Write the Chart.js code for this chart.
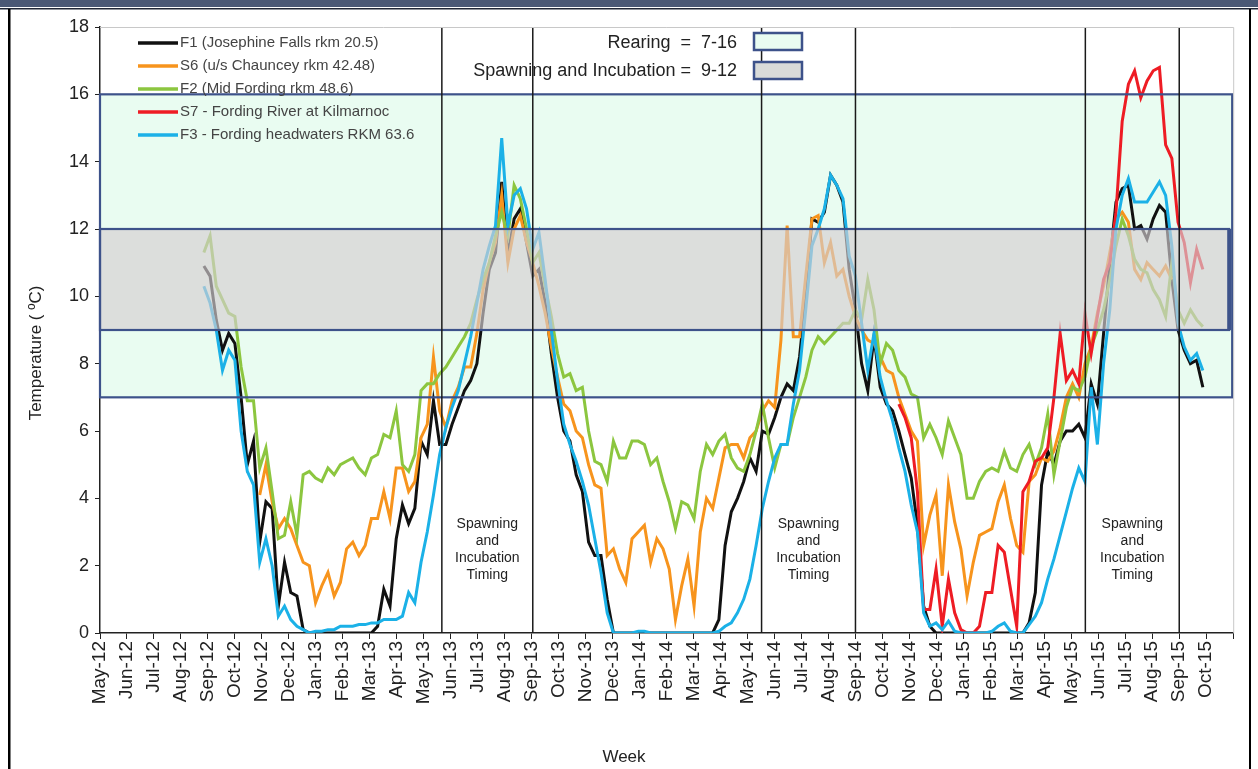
<!DOCTYPE html>
<html>
<head>
<meta charset="utf-8">
<script src="https://cdn.jsdelivr.net/npm/chart.js@4.4.1/dist/chart.umd.min.js"></script>
<style>
	body { margin: 0; background: #fff; }
	canvas { display: block; }
</style>
</head>
<body>
<canvas id="tempChart" width="1258" height="769"></canvas>
<script>
// month tick labels, index 0 = May-12
const monthLabels = [
	"May-12", "Jun-12", "Jul-12", "Aug-12", "Sep-12", "Oct-12", "Nov-12", "Dec-12",
	"Jan-13", "Feb-13", "Mar-13", "Apr-13", "May-13", "Jun-13", "Jul-13", "Aug-13",
	"Sep-13", "Oct-13", "Nov-13", "Dec-13", "Jan-14", "Feb-14", "Mar-14", "Apr-14",
	"May-14", "Jun-14", "Jul-14", "Aug-14", "Sep-14", "Oct-14", "Nov-14", "Dec-14",
	"Jan-15", "Feb-15", "Mar-15", "Apr-15", "May-15", "Jun-15", "Jul-15", "Aug-15",
	"Sep-15", "Oct-15"
];

// weekly series, first week sits at month 3.85 (late Aug-12)
const firstWeek = 3.85;
const weekLen = 12 / 52.18;

const f1Josephine = [
	10.9, 10.6, 9.3, 8.4, 8.9, 8.6, 7.0, 5.0, 5.7, 2.7,
	3.9, 3.7, 0.8, 2.1, 1.2, 1.1, 0.1, 0, 0, 0,
	0, 0, 0, 0, 0, 0, 0, 0, 0.2, 1.3,
	0.8, 2.8, 3.8, 3.25, 3.7, 5.7, 5.3, 6.9, 5.6, 5.6,
	6.2, 6.7, 7.2, 7.5, 8.0, 9.5, 10.8, 11.3, 13.4, 11.2,
	12.3, 12.6, 11.6, 10.6, 10.8, 9.8, 8.3, 7.0, 6.0, 5.7,
	4.7, 4.2, 2.7, 2.3, 2.3, 1.0, 0, 0, 0, 0,
	0, 0, 0, 0, 0, 0, 0, 0, 0, 0,
	0, 0, 0, 0.4, 2.6, 3.6, 4.0, 4.5, 5.2, 4.8,
	6.0, 5.9, 6.4, 7.0, 7.4, 7.2, 8.2, 10.0, 12.3, 12.2,
	12.5, 13.6, 13.3, 12.8, 10.8, 9.6, 8.0, 7.2, 8.8, 7.3,
	6.8, 6.6, 6.0, 5.3, 4.6, 3.2, 0.8, 0.2, 0, 0,
	0, 0, 0, 0, 0, 0, 0, 0, 0, 0,
	0, 0, 0, 0.3, 1.2, 4.4, 5.4, 5.0, 5.7, 6.0,
	6.0, 6.2, 5.8, 7.4, 6.8, 8.9, 11.0, 12.8, 13.2, 13.3,
	12.0, 12.1, 11.7, 12.3, 12.7, 12.5, 10.5, 9.0, 8.4, 8.0,
	8.1, 7.3
];

const s6Chauncey = [
	4.1, 5.0, 3.9, 3.1, 3.4, 3.1, 2.6, 2.1, 2.0, 0.9,
	1.4, 1.8, 1.1, 1.5, 2.5, 2.7, 2.3, 2.6, 3.4, 3.4,
	4.2, 3.4, 4.9, 4.9, 4.2, 4.5, 5.8, 6.2, 8.2, 6.6,
	6.1, 6.9, 7.3, 7.9, 7.9, 8.9, 10.2, 11.0, 11.6, 13.0,
	11.0, 12.0, 12.4, 11.6, 11.0, 10.3, 9.5, 8.5, 7.6, 6.8,
	6.6, 6.0, 5.8, 5.0, 4.4, 4.3, 2.3, 2.5, 1.9, 1.5,
	2.8, 3.0, 3.2, 2.1, 2.8, 2.5, 1.9, 0.4, 1.4, 2.2,
	0.8, 3.0, 4.0, 3.7, 4.6, 5.5, 5.6, 5.6, 5.2, 5.8,
	6.0, 6.6, 6.9, 6.7, 8.7, 12.1, 8.8, 8.8, 10.6, 12.3,
	12.4, 11.0, 11.6, 10.6, 10.8, 10.0, 9.4, 9.0, 8.7, 8.6,
	8.2, 7.8, 7.7, 7.0, 6.5, 6.0, 5.7, 2.6, 3.5, 4.1,
	1.7, 4.4, 3.3, 2.5, 1.1, 2.1, 2.9, 3.0, 3.1, 3.9,
	4.4, 3.4, 2.6, 2.4, 4.5, 4.7, 5.2, 5.1, 5.4, 6.1,
	7.0, 7.4, 7.0, 8.0, 8.5, 9.5, 10.3, 11.3, 12.3, 12.5,
	12.2, 10.8, 10.5, 11.0, 10.8, 10.6, 10.9, 10.5
];
const s6Start = 9;

const f2MidFording = [
	11.3, 11.8, 10.3, 9.9, 9.5, 9.4, 7.9, 6.9, 6.9, 4.9,
	5.5, 4.2, 2.8, 2.9, 3.9, 2.9, 4.7, 4.8, 4.6, 4.5,
	4.9, 4.7, 5.0, 5.1, 5.2, 4.9, 4.7, 5.2, 5.3, 5.9,
	5.8, 6.6, 5.0, 4.8, 5.3, 7.2, 7.4, 7.4, 7.7, 7.9,
	8.2, 8.5, 8.8, 9.2, 9.9, 10.5, 11.0, 11.8, 12.5, 11.8,
	13.3, 12.9, 12.0, 11.0, 11.3, 10.3, 9.4, 8.3, 7.6, 7.7,
	7.2, 7.3, 6.0, 5.1, 5.0, 4.5, 5.7, 5.2, 5.2, 5.7,
	5.7, 5.6, 5.0, 5.2, 4.5, 3.9, 3.1, 3.9, 3.8, 3.4,
	4.8, 5.6, 5.3, 5.7, 5.9, 5.2, 4.9, 4.8, 5.3, 6.0,
	6.8, 5.8, 4.9, 5.6, 5.6, 6.4, 7.0, 7.6, 8.4, 8.8,
	8.6, 8.8, 9.0, 9.2, 9.2, 9.6, 9.3, 10.5, 9.6, 8.0,
	8.6, 8.4, 7.8, 7.6, 7.1, 7.0, 5.8, 6.2, 5.8, 5.3,
	6.3, 5.8, 5.3, 4.0, 4.0, 4.5, 4.8, 4.9, 4.8, 5.4,
	4.9, 4.8, 5.3, 5.6, 5.0, 5.5, 6.5, 4.7, 5.7, 6.7,
	7.3, 7.2, 7.6, 8.5, 9.0, 9.6, 10.5, 11.5, 12.3, 11.8,
	11.1, 10.8, 10.7, 10.2, 9.9, 9.4, 11.0, 9.6, 9.2, 9.6,
	9.3, 9.1
];

const s7Kilmarnoc = [
	6.8, 6.4, 5.8, 4.2, 0.7, 0.7, 1.9, 0.2, 1.6, 0.6,
	0.1, 0, 0, 0.2, 1.2, 1.2, 2.6, 2.4, 1.3, 0.2,
	4.2, 4.5, 5.1, 5.2, 5.5, 7.0, 8.9, 7.5, 7.8, 7.4,
	9.5, 8.3, 9.4, 10.5, 11.0, 12.5, 15.2, 16.3, 16.7, 15.9,
	16.4, 16.7, 16.8, 14.5, 14.1, 12.2, 11.6, 10.4, 11.4, 10.8
];
const s7Start = 112;

const f3Headwaters = [
	10.3, 9.8, 9.0, 7.8, 8.4, 8.1, 6.0, 4.8, 4.4, 2.1,
	2.8, 2.0, 0.5, 0.8, 0.4, 0.2, 0.1, 0, 0.05, 0.05,
	0.1, 0.1, 0.2, 0.2, 0.2, 0.25, 0.25, 0.3, 0.3, 0.4,
	0.4, 0.4, 0.5, 1.2, 0.9, 2.1, 3.0, 4.1, 5.3, 6.1,
	6.7, 7.2, 8.0, 8.8, 9.8, 10.8, 11.5, 12.1, 14.7, 12.1,
	13.0, 13.2, 12.6, 11.4, 11.9, 10.5, 9.0, 7.5, 6.2, 5.6,
	5.1, 4.5, 3.8, 2.8, 1.8, 0.6, 0, 0, 0, 0,
	0.05, 0.05, 0, 0, 0, 0, 0, 0, 0, 0,
	0, 0, 0, 0.05, 0.2, 0.3, 0.6, 1.0, 1.6, 2.6,
	3.7, 4.5, 5.2, 5.6, 5.6, 6.8, 7.8, 9.6, 11.5, 12.0,
	12.6, 13.6, 13.3, 12.9, 11.2, 10.6, 9.2, 7.8, 8.9, 7.6,
	6.9, 6.3, 5.5, 4.8, 3.8, 3.0, 0.6, 0.2, 0.3, 0.1,
	0.35, 0.05, 0, 0, 0, 0, 0, 0.05, 0.2, 0.3,
	0.05, 0, 0, 0.25, 0.5, 0.9, 1.6, 2.2, 2.9, 3.6,
	4.3, 4.9, 4.5, 7.3, 5.6, 8.0, 9.6, 12.0, 13.0, 13.5,
	12.8, 12.8, 12.8, 13.1, 13.4, 13.0, 11.5, 9.2, 8.5, 8.1,
	8.3, 7.8
];

// guideline bands (deg C) and spawning timing windows (month index)
const rearingRange = [7, 16];
const spawningRange = [9, 12];
const spawnWindows = [[12.67, 16.04], [24.52, 28.0], [36.52, 40.0]];

const seriesNames = [
	"F1 (Josephine Falls rkm 20.5)",
	"S6 (u/s Chauncey rkm 42.48)",
	"F2 (Mid Fording rkm 48.6)",
	"S7 - Fording River at Kilmarnoc",
	"F3 - Fording headwaters RKM 63.6"
];
const seriesColors = ["#111111", "#f7941d", "#8cc63f", "#ee1c24", "#1bb1e7"];

function toPoints(values, start) {
	return values.map((v, i) => ({ x: firstWeek + (start + i) * weekLen, y: v }));
}

const FONT = "Arial, 'Liberation Sans', sans-serif";

const bandsPlugin = {
	id: "bands",
	beforeDatasetsDraw(chart) {
		const { ctx, chartArea: a, scales: { y } } = chart;
		ctx.save();
		ctx.fillStyle = "#e9fcf1";
		ctx.fillRect(a.left, y.getPixelForValue(rearingRange[1]), a.right - a.left,
			y.getPixelForValue(rearingRange[0]) - y.getPixelForValue(rearingRange[1]));
		ctx.restore();
	},
	afterDatasetsDraw(chart) {
		const { ctx, chartArea: a, scales: { x, y } } = chart;
		ctx.save();
		const s1 = y.getPixelForValue(spawningRange[1]);
		const s0 = y.getPixelForValue(spawningRange[0]);
		ctx.fillStyle = "rgba(212, 206, 209, 0.66)";
		ctx.fillRect(a.left, s1, a.right - 4 - a.left, s0 - s1);

		// box outlines
		ctx.strokeStyle = "#3d528a";
		ctx.lineWidth = 2.2;
		const r1 = y.getPixelForValue(rearingRange[1]);
		const r0 = y.getPixelForValue(rearingRange[0]);
		ctx.strokeRect(a.left, r1, a.right - a.left - 1, r0 - r1);
		ctx.strokeRect(a.left, s1, a.right - 4 - a.left, s0 - s1);
		ctx.lineWidth = 4;
		ctx.beginPath();
		ctx.moveTo(a.right - 4, s1);
		ctx.lineTo(a.right - 4, s0);
		ctx.stroke();

		// spawning timing windows
		ctx.strokeStyle = "#1a1a1a";
		ctx.lineWidth = 1.5;
		ctx.fillStyle = "#222";
		ctx.font = "14px " + FONT;
		ctx.textAlign = "center";
		ctx.textBaseline = "middle";
		spawnWindows.forEach(w => {
			const xa = x.getPixelForValue(w[0]);
			const xb = x.getPixelForValue(w[1]);
			[xa, xb].forEach(px => {
				ctx.beginPath();
				ctx.moveTo(px, a.top);
				ctx.lineTo(px, a.bottom);
				ctx.stroke();
			});
			const cx = (xa + xb) / 2;
			["Spawning", "and", "Incubation", "Timing"].forEach((t, i) => {
				ctx.fillText(t, cx, 524 + i * 17);
			});
		});
		ctx.restore();
	}
};

const decorPlugin = {
	id: "decor",
	afterDraw(chart) {
		const { ctx, chartArea: a } = chart;
		ctx.save();
		// frame
		ctx.fillStyle = "#4a5875";
		ctx.fillRect(0, 0, 1258, 7);
		ctx.fillStyle = "#1f2636";
		ctx.fillRect(0, 8, 1258, 1.5);
		ctx.fillStyle = "#000";
		ctx.fillRect(8, 9, 2.5, 760);
		ctx.fillRect(1249, 9, 2, 760);

		// plot border top / right
		ctx.strokeStyle = "#c8c8c8";
		ctx.lineWidth = 1;
		ctx.beginPath();
		ctx.moveTo(a.left, a.top + 0.5);
		ctx.lineTo(a.right + 0.5, a.top + 0.5);
		ctx.lineTo(a.right + 0.5, a.bottom);
		ctx.stroke();

		// series legend
		ctx.font = "15px " + FONT;
		ctx.textAlign = "left";
		ctx.textBaseline = "middle";
		seriesNames.forEach((name, i) => {
			const yy = 43 + i * 23;
			ctx.strokeStyle = seriesColors[i];
			ctx.lineWidth = 3.5;
			ctx.beginPath();
			ctx.moveTo(138, yy);
			ctx.lineTo(178, yy);
			ctx.stroke();
			ctx.fillStyle = "#444";
			ctx.fillText(name, 180, yy);
		});

		// guideline legend
		ctx.font = "18px " + FONT;
		ctx.textAlign = "right";
		ctx.fillStyle = "#222";
		ctx.fillText("Rearing  =  7-16", 737, 43);
		ctx.fillText("Spawning and Incubation =  9-12", 737, 71);
		ctx.strokeStyle = "#3d528a";
		ctx.lineWidth = 2.5;
		ctx.fillStyle = "#e9fcf1";
		ctx.fillRect(754, 33, 48, 17);
		ctx.strokeRect(754, 33, 48, 17);
		ctx.fillStyle = "#d9dbd9";
		ctx.fillRect(754, 62, 48, 17);
		ctx.strokeRect(754, 62, 48, 17);

		// axis titles
		ctx.fillStyle = "#222";
		ctx.font = "17px " + FONT;
		ctx.textAlign = "center";
		ctx.fillText("Week", 624, 757);
		ctx.translate(36, 353);
		ctx.rotate(-Math.PI / 2);
		ctx.fillText("Temperature ( \u00baC)", 0, 0);
		ctx.restore();
	}
};

const ctx = document.getElementById("tempChart");
const seriesData = [
	toPoints(f1Josephine, 0),
	toPoints(s6Chauncey, s6Start),
	toPoints(f2MidFording, 0),
	toPoints(s7Kilmarnoc, s7Start),
	toPoints(f3Headwaters, 0)
];

new Chart(ctx, {
	type: "line",
	data: {
		datasets: seriesData.map((pts, i) => ({
			label: seriesNames[i],
			data: pts,
			borderColor: seriesColors[i],
			borderWidth: 3,
			pointRadius: 0,
			tension: 0,
			fill: false,
			order: 5 - i
		}))
	},
	options: {
		responsive: false,
		animation: false,
		layout: { padding: { top: 27, right: 24, left: 0, bottom: 0 } },
		plugins: { legend: { display: false }, tooltip: { enabled: false } },
		scales: {
			x: {
				type: "linear",
				min: 0,
				max: 42,
				afterFit: s => { s.height = 136; },
				ticks: {
					stepSize: 1,
					autoSkip: false,
					maxTicksLimit: 100,
					minRotation: 90,
					maxRotation: 90,
					padding: 2,
					color: "#222",
					font: { size: 19, family: FONT },
					callback: v => monthLabels[v] || ""
				},
				grid: { drawOnChartArea: false, drawTicks: true, tickLength: 6, color: "#222" },
				border: { display: true, color: "#222", width: 1.5 }
			},
			y: {
				min: 0,
				max: 18,
				afterFit: s => { s.width = 100; },
				ticks: {
					stepSize: 2,
					padding: 6,
					color: "#222",
					font: { size: 18, family: FONT }
				},
				grid: { drawOnChartArea: false, drawTicks: true, tickLength: 5, color: "#222" },
				border: { display: true, color: "#222", width: 1.5 }
			}
		}
	},
	plugins: [bandsPlugin, decorPlugin]
});
</script>
</body>
</html>
